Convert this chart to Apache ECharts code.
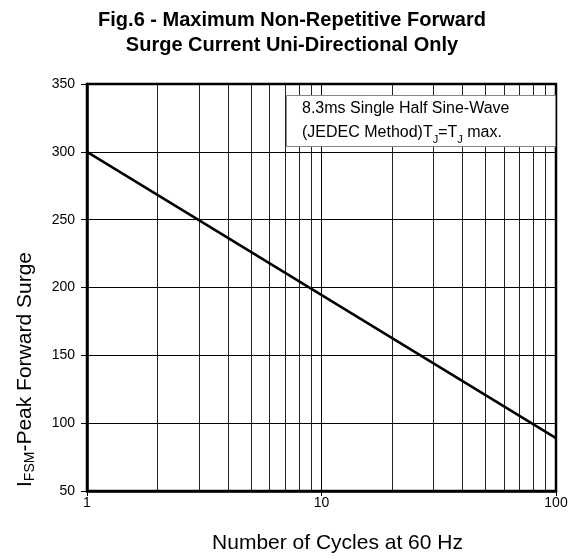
<!DOCTYPE html>
<html lang="en">

<head>
  <meta charset="utf-8" />
  <title></title>
  <script src="https://cdn.jsdelivr.net/npm/echarts@6/dist/echarts.min.js"></script>
  <style>
    * {
      margin: 0;
      padding: 0;
    }

    #chart-container {
      position: relative;
      width: 572px;
      height: 559px;
      overflow: hidden;
      background: #fff;
    }
  </style>
</head>

<body>
  <div id="chart-container"></div>

  <script>
    // surge curve
    var cycles = [1, 100];
    var surge = [300, 89];

    // extra vertical grid lines of the log axis
    var minorX = [2, 3, 4, 5, 6, 7, 8, 9, 20, 30, 40, 50, 60, 70, 80, 90];

    var yTicks = [50, 100, 150, 200, 250, 300, 350];

    var lineData = cycles.map(function (c, i) {
      return [c, surge[i]];
    });

    var dom = document.getElementById("chart-container");
    var myChart = echarts.init(dom, null, {
      renderer: "canvas",
      useDirtyRect: false,
    });

    var font = "Liberation Sans, Arial, sans-serif";

    var option = {
      animation: false,
      backgroundColor: "#fff",
      title: [
        {
          text: "Fig.6 - Maximum Non-Repetitive Forward\nSurge Current Uni-Directional Only",
          left: 292,
          top: 8,
          padding: 0,
          textAlign: "center",
          textStyle: {
            fontFamily: font,
            fontSize: 20,
            fontWeight: "bold",
            color: "#000",
            lineHeight: 25,
          },
        },
        {
          text: "8.3ms Single Half Sine-Wave\n(JEDEC Method)T{s|J}=T{s|J} max.",
          left: 286,
          top: 95,
          padding: [2, 46, 2, 16],
          backgroundColor: "#fff",
          borderColor: "#888",
          borderWidth: 1,
          textStyle: {
            fontFamily: font,
            fontSize: 16,
            fontWeight: "normal",
            color: "#000",
            lineHeight: 24,
            rich: {
              s: {
                fontFamily: font,
                fontSize: 11,
                verticalAlign: "bottom",
                padding: [8, 0, 0, 0],
                color: "#000",
              },
            },
          },
        },
      ],
      grid: {
        left: 87,
        right: 16,
        top: 84,
        bottom: 66,
        show: true,
        borderColor: "#000",
        borderWidth: 2.5,
        z: 3,
      },
      xAxis: {
        type: "log",
        logBase: 10,
        min: 1,
        max: 100,
        name: "Number of Cycles at 60 Hz",
        nameLocation: "middle",
        nameGap: 42,
        nameTextStyle: {
          fontFamily: font,
          fontSize: 21,
          color: "#000",
          padding: [0, 0, 0, 32],
        },
        axisLine: { show: true, lineStyle: { color: "#000", width: 2.5 } },
        axisTick: { show: true, length: 5, lineStyle: { color: "#000" } },
        axisLabel: {
          fontFamily: font,
          fontSize: 14,
          color: "#000",
          margin: 5,
        },
        splitLine: { show: true, lineStyle: { color: "#000", width: 1 } },
        minorTick: { show: false },
        minorSplitLine: { show: false },
      },
      yAxis: {
        type: "value",
        min: yTicks[0],
        max: yTicks[yTicks.length - 1],
        interval: 50,
        name: "{i|I}{s|FSM}{n|-Peak Forward Surge}",
        nameLocation: "middle",
        nameGap: 50,
        nameRotate: 90,
        nameTextStyle: {
          fontFamily: font,
          color: "#000",
          padding: [0, 164, 0, 0],
          rich: {
            i: { fontFamily: font, fontSize: 21, color: "#000" },
            s: {
              fontFamily: font,
              fontSize: 14,
              color: "#000",
              verticalAlign: "bottom",
              padding: [10, 0, 0, 0],
            },
            n: { fontFamily: font, fontSize: 21, color: "#000" },
          },
        },
        axisLine: { show: true, lineStyle: { color: "#000", width: 2.5 } },
        axisTick: { show: true, length: 6, lineStyle: { color: "#000" } },
        axisLabel: {
          fontFamily: font,
          fontSize: 14,
          color: "#000",
          margin: 12,
        },
        splitLine: { show: true, lineStyle: { color: "#000", width: 1 } },
      },
      series: [
        {
          type: "line",
          data: lineData,
          showSymbol: false,
          symbol: "none",
          z: 5,
          lineStyle: { color: "#000", width: 2.5 },
          markLine: {
            silent: true,
            symbol: "none",
            label: { show: false },
            lineStyle: { color: "#222", width: 1, type: "solid" },
            z: 1,
            data: minorX.map(function (v) {
              return { xAxis: v };
            }),
          },
        },
      ],
    };

    if (option && typeof option === "object") {
      myChart.setOption(option);
    }

    window.addEventListener("resize", myChart.resize);
  </script>
</body>

</html>
